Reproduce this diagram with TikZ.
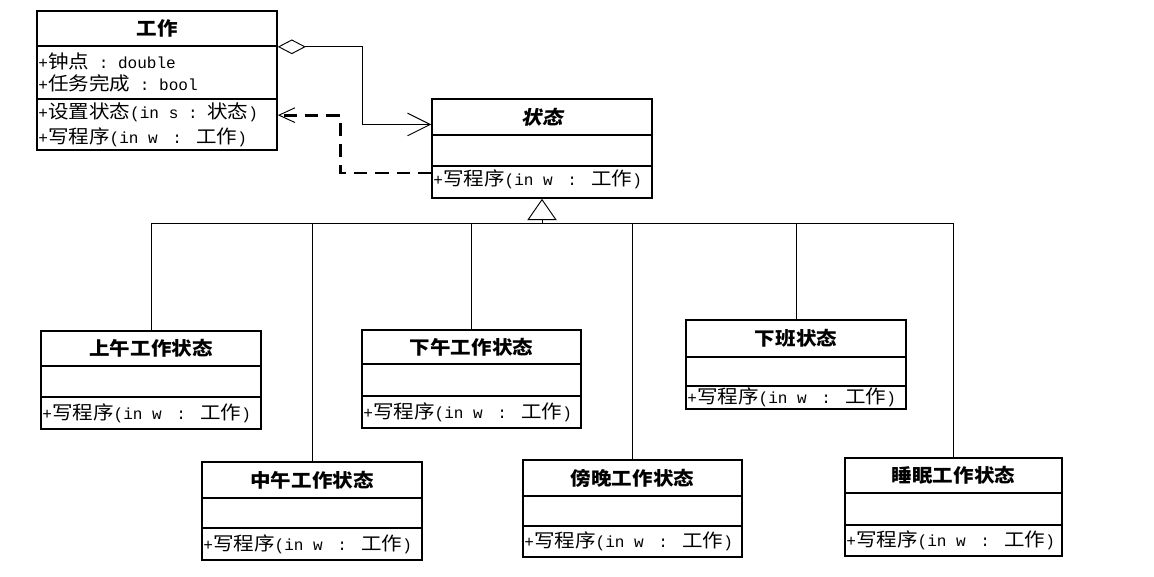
\documentclass[tikz,border=0pt]{standalone}
\usepackage{fontspec}
\setmainfont{Noto Sans CJK SC}[FakeStretch=1.1]
\newfontfamily\lat{Liberation Mono}[Scale=0.86]
\newfontfamily\slcjk{Noto Sans CJK SC}[FakeStretch=1.1,FakeSlant=0.2]
\usetikzlibrary{arrows.meta,fit}

\newcommand{\writeop}{{\lat+}写程序{\lat(in w\hskip0.9em:\hskip0.9em}工作{\lat)}}

\begin{document}
\begin{tikzpicture}[
        x=0.75pt, y=-0.75pt,
        font=\fontsize{14}{17}\selectfont,
        part/.style={draw, line width=1.2pt, inner sep=0pt},
        classtitle/.style={inner sep=0pt, font=\fontsize{14}{17}\selectfont\bfseries},
        optext/.style={anchor=west, inner sep=0pt, xshift=1.5pt, align=left},
        link/.style={line width=0.7pt},
        aggr/.style={link, {Diamond[open,length=21pt,width=11pt]}-{Straight Barb[length=17pt,width=17pt]}},
        dep/.style={line width=2.2pt, dash pattern=on 10pt off 6pt, -{Straight Barb[length=12pt,width=11pt,line width=0.7pt]}},
        inherit/.style={link, -{Triangle[open,length=16pt,width=22pt]}}
    ]
    \useasboundingbox (0,0) rectangle (1154,576);

    % ==========================================
    % Context: 工作
    % ==========================================
    \node[part, fit={(37,11) (277,46)}] (work-name) {};
    \node[part, fit={(37,46) (277,99)}] (work-attr) {};
    \node[part, fit={(37,99) (277,150)}] (work-ops) {};
    \node[classtitle] (work-title) at (work-name.center) {工作};
    \node[optext] (work-attr-text) at (work-attr.west)
        {{\lat+}钟点{\lat~:~double}\\{\lat+}任务完成{\lat~:~bool}};
    \node[optext] (work-ops-text) at (work-ops.west)
        {{\lat+}设置状态{\lat(in s~:~}状态{\lat)}\\[1.5pt]\writeop};

    % ==========================================
    % Abstract state: 状态
    % ==========================================
    \node[part, fit={(432,99) (652,135)}] (state-name) {};
    \node[part, fit={(432,135) (652,166)}] (state-attr) {};
    \node[part, fit={(432,166) (652,198)}] (state-ops) {};
    \node[classtitle] (state-title) at (state-name.center) {\slcjk\bfseries 状态};
    \node[optext] (state-op) at ([yshift=2pt]state-ops.west) {\writeop};

    % aggregation and dependency
    \draw[aggr] (work-name.south east) -- ++(85,0) |- ([yshift=-5.6pt]state-name.west);
    \draw[dep] ([yshift=6.75pt]state-ops.west) -- ++(-91,0) |- ([yshift=7pt]work-ops.east);

    % ==========================================
    % Concrete states
    % ==========================================
    \coordinate (bus) at ([yshift=-18.75pt]state-ops.south);
    \draw[inherit] (bus) -- (state-ops.south);

    \foreach \id/\l/\t/\r/\a/\o/\b/\title in {
            morning/41/331/261/366/397/429/上午工作状态,
            noon/202/462/422/498/528/560/中午工作状态,
            afternoon/362/330/581/364/396/428/下午工作状态,
            evening/523/460/742/496/526/557/傍晚工作状态,
            offduty/686/320/906/357/386/409/下班状态,
            sleeping/845/458/1062/493/525/556/睡眠工作状态} {
        \node[part, fit={(\l,\t) (\r,\a)}] (\id-name) {};
        \node[part, fit={(\l,\a) (\r,\o)}] (\id-attr) {};
        \node[part, fit={(\l,\o) (\r,\b)}] (\id-ops) {};
        \node[classtitle] (\id-title) at (\id-name.center) {\title};
        \node[optext] (\id-op) at (\id-ops.west) {\writeop};
        \draw[link] (\id-name.north) -- (\id-name.north |- bus);
    }
    \draw[link] (morning-name.north |- bus) -- (sleeping-name.north |- bus);

\end{tikzpicture}
\end{document}
